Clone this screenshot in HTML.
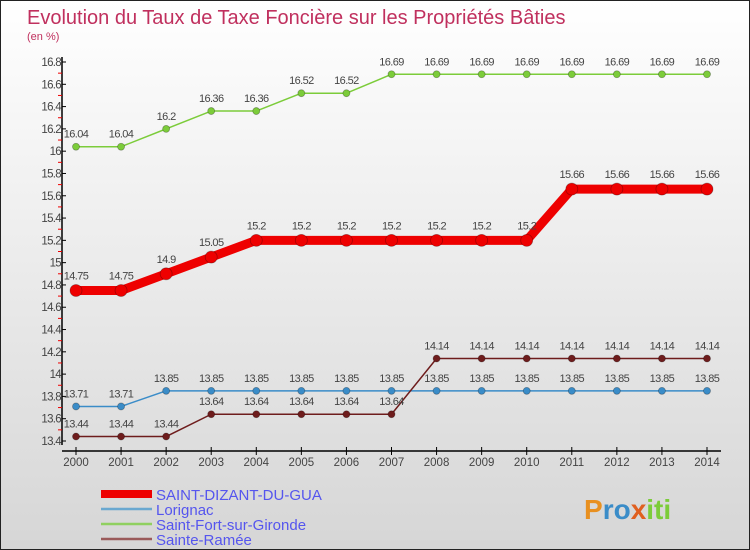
<!DOCTYPE html>
<html><head><meta charset="utf-8"><style>
body{margin:0}
#c{width:750px;height:550px;position:relative;box-sizing:border-box;border:1px solid #222;background:linear-gradient(#ffffff,#d6d6d6);font-family:"Liberation Sans",sans-serif;overflow:hidden}
</style></head><body>
<div id="c">
<svg id="s" width="750" height="550" style="position:absolute;left:0;top:0">
<text x="26" y="23" font-size="20" fill="#c0305e" font-weight="300">Evolution du Taux de Taxe Foncière sur les Propriétés Bâties</text>
<text x="26" y="39" font-size="11" fill="#c0305e">(en %)</text>
<g id="g"></g>
</svg>
</div>
<script>
const years=[2000,2001,2002,2003,2004,2005,2006,2007,2008,2009,2010,2011,2012,2013,2014];
const yTicks=[13.4,13.6,13.8,14,14.2,14.4,14.6,14.8,15,15.2,15.4,15.6,15.8,16,16.2,16.4,16.6,16.8];
const seriesNames=["SAINT-DIZANT-DU-GUA","Lorignac","Saint-Fort-sur-Gironde","Sainte-Ramée"];
const saintDizant=[14.75,14.75,14.9,15.05,15.2,15.2,15.2,15.2,15.2,15.2,15.2,15.66,15.66,15.66,15.66];
const lorignac=[13.71,13.71,13.85,13.85,13.85,13.85,13.85,13.85,13.85,13.85,13.85,13.85,13.85,13.85,13.85];
const saintFort=[16.04,16.04,16.2,16.36,16.36,16.52,16.52,16.69,16.69,16.69,16.69,16.69,16.69,16.69,16.69];
const sainteRamee=[13.44,13.44,13.44,13.64,13.64,13.64,13.64,13.64,14.14,14.14,14.14,14.14,14.14,14.14,14.14];
const NS="http://www.w3.org/2000/svg",g=document.getElementById('g');
const xS=i=>75+i*(706-75)/(years.length-1);
const yS=v=>440-(v-13.4)*(440-61)/(16.8-13.4);
function mk(t,a,p){const e=document.createElementNS(NS,t);for(const k in a)e.setAttribute(k,a[k]);(p||g).appendChild(e);return e;}
let ax=mk('line',{x1:61,y1:56,x2:61,y2:444,stroke:'#000','stroke-width':1.5});


let xa=mk('line',{x1:61,y1:450,x2:720,y2:450,stroke:'#000','stroke-width':1.5});


yTicks.forEach((v,i)=>{const y=yS(v);
 mk('line',{x1:61,y1:y,x2:65,y2:y,stroke:'#000'});
 if(i<yTicks.length-1){const m=yS(v+0.1);mk('line',{x1:57,y1:m,x2:61,y2:m,stroke:'#e00'});}
 const t=mk('text',{x:60,y:y+4,'font-size':11.5,'text-anchor':'end',fill:'#444','letter-spacing':'-0.7'});t.textContent=String(v);
 
 
});
years.forEach((yr,i)=>{const x=xS(i);
 mk('line',{x1:x,y1:446,x2:x,y2:454,stroke:'#000'});
 const t=mk('text',{x:x,y:465,'font-size':11.5,'text-anchor':'middle',fill:'#444'});t.textContent=yr;
 
 
});
function series(data,col,lw,r,name,labelOff){
 const pts=data.map((v,i)=>xS(i)+','+yS(v)).join(' ');
 const l=mk('polyline',{points:pts,fill:'none',stroke:col,'stroke-width':lw,'stroke-linejoin':'round'});
 
 
 data.forEach((v,i)=>{
  const c=mk('circle',{cx:xS(i),cy:yS(v),r:r,fill:col,stroke:'rgba(0,0,0,0.3)','stroke-width':0.8});
  
  
  const t=mk('text',{x:xS(i),y:yS(v)-labelOff,'font-size':11,'text-anchor':'middle',fill:'#444','letter-spacing':'-0.6'});t.textContent=String(v);
  
  
 });
}
series(saintFort,'#7ccc3a',1.5,3.5,'saint-fort',9);
series(lorignac,'#3a8cc8',1.5,3.5,'lorignac',9);
series(sainteRamee,'#6e1c1c',1.5,3.5,'sainte-ramee',9);
series(saintDizant,'#ee0000',9,6,'saint-dizant',11);
const legCols=['#ee0000','#6aa8d0','#90d060','#9a5a5a'],legW=[8,2.5,2.5,2.5];
seriesNames.forEach((n,i)=>{const y=493+i*15;
 const l=mk('line',{x1:100,y1:y,x2:151,y2:y,stroke:legCols[i],'stroke-width':legW[i]});
 
 
 const t=mk('text',{x:155,y:y+6,'font-size':15,fill:'#5555ee'});t.textContent=n;
 
 
});
const lg=mk('text',{x:583,y:518,'font-size':28,'font-weight':'bold',fill:'#3a8cc8'});


lg.innerHTML='<tspan fill="#e89020">P</tspan>ro<tspan fill="#e06020">x</tspan><tspan fill="#7ccc3a">iti</tspan>';
</script>
</body></html>
